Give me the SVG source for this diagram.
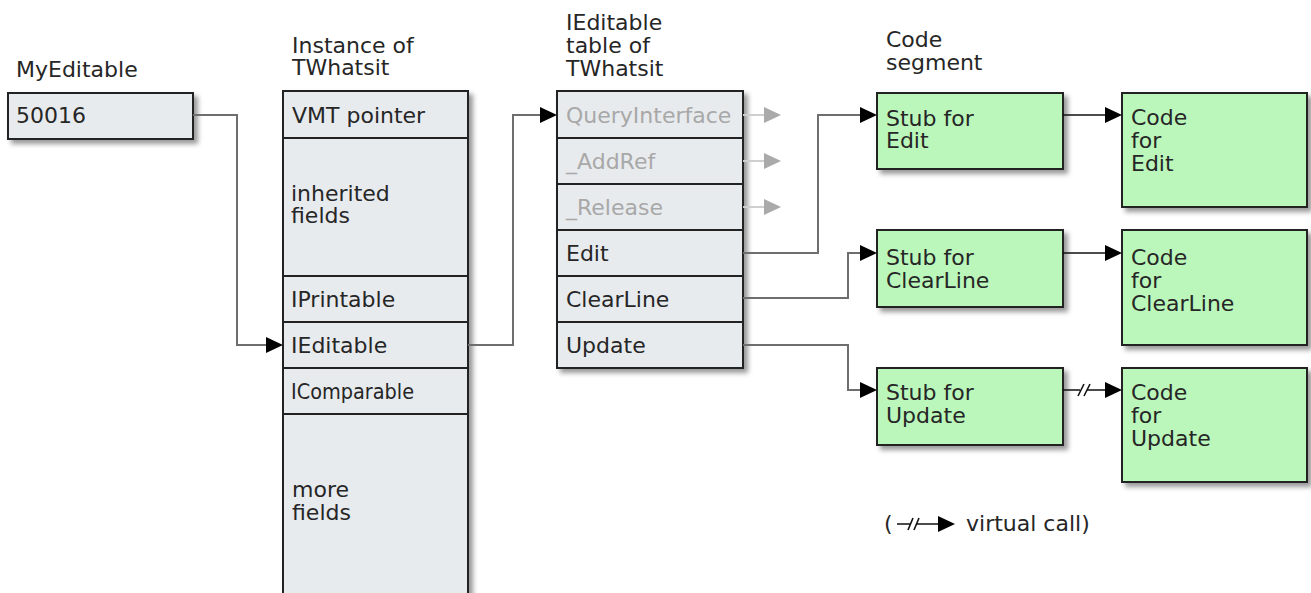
<svg xmlns="http://www.w3.org/2000/svg" width="1311" height="593" viewBox="0 0 1311 593">
<defs>
<style>
text{font-family:"DejaVu Sans","Verdana",sans-serif;font-size:22px;fill:#262626}
.dim{fill:#a8a8a8}
.box{fill:#e8ebee;stroke:#222;stroke-width:2}
.green{fill:#bbf7bb;stroke:#222;stroke-width:2}
.div{stroke:#222;stroke-width:2}
.conn{fill:none;stroke:#6e6e6e;stroke-width:2}
.call{fill:none;stroke:#111;stroke-width:1.6}
.ghost{fill:none;stroke:#cfcfcf;stroke-width:2}
</style>
<filter id="sh" x="-10%" y="-10%" width="130%" height="130%">
<feDropShadow dx="4" dy="4" stdDeviation="2.5" flood-color="#000" flood-opacity="0.4"/>
</filter>
<marker id="ah" markerUnits="userSpaceOnUse" markerWidth="18" markerHeight="17" refX="5" refY="8" orient="auto">
<path d="M0,0 L17,8 L0,16 z" fill="#000"/>
</marker>
<marker id="ahg" markerUnits="userSpaceOnUse" markerWidth="18" markerHeight="17" refX="5" refY="8" orient="auto">
<path d="M0,0 L17,8 L0,16 z" fill="#aaa"/>
</marker>
</defs>
<rect width="1311" height="593" fill="#fff"/>

<g id="labels">
<text x="16" y="77">MyEditable</text>
<text x="292" y="53">Instance of</text>
<text x="292" y="75">TWhatsit</text>
<text x="566" y="30">IEditable</text>
<text x="566" y="53">table of</text>
<text x="566" y="76">TWhatsit</text>
<text x="886" y="47">Code</text>
<text x="886" y="70">segment</text>
</g>

<g id="myeditable">
<rect class="box" x="8" y="93" width="185" height="46" filter="url(#sh)"/>
<text x="16" y="123">50016</text>
</g>

<g id="instance">
<rect class="box" x="283" y="91" width="185" height="520" filter="url(#sh)"/>
<line class="div" x1="283" y1="138" x2="468" y2="138"/>
<line class="div" x1="283" y1="276" x2="468" y2="276"/>
<line class="div" x1="283" y1="322" x2="468" y2="322"/>
<line class="div" x1="283" y1="368" x2="468" y2="368"/>
<line class="div" x1="283" y1="414" x2="468" y2="414"/>
<g id="inst-vmt"><text x="292" y="123">VMT pointer</text></g>
<g id="inst-inherited"><text x="291" y="201">inherited</text><text x="291" y="223">fields</text></g>
<g id="inst-iprintable"><text x="291" y="307">IPrintable</text></g>
<g id="inst-ieditable"><text x="291" y="353">IEditable</text></g>
<g id="inst-icomparable"><text x="291" y="399" textLength="123" lengthAdjust="spacingAndGlyphs">IComparable</text></g>
<g id="inst-more"><text x="292" y="497">more</text><text x="292" y="520">fields</text></g>
</g>

<g id="itable">
<rect class="box" x="557" y="91" width="186" height="277" filter="url(#sh)"/>
<line class="div" x1="557" y1="138" x2="743" y2="138"/>
<line class="div" x1="557" y1="184" x2="743" y2="184"/>
<line class="div" x1="557" y1="230" x2="743" y2="230"/>
<line class="div" x1="557" y1="276" x2="743" y2="276"/>
<line class="div" x1="557" y1="322" x2="743" y2="322"/>
<g id="t-query"><text class="dim" x="566" y="123">QueryInterface</text></g>
<g id="t-addref"><text class="dim" x="566" y="169">_AddRef</text></g>
<g id="t-release"><text class="dim" x="566" y="215">_Release</text></g>
<g id="t-edit"><text x="566" y="261">Edit</text></g>
<g id="t-clearline"><text x="566" y="307">ClearLine</text></g>
<g id="t-update"><text x="566" y="353">Update</text></g>
</g>

<g id="stub-edit">
<rect class="green" x="877" y="93" width="186" height="76" filter="url(#sh)"/>
<text x="886" y="126">Stub for</text><text x="886" y="148">Edit</text>
</g>
<g id="stub-clearline">
<rect class="green" x="877" y="230" width="186" height="77" filter="url(#sh)"/>
<text x="886" y="265">Stub for</text><text x="886" y="288">ClearLine</text>
</g>
<g id="stub-update">
<rect class="green" x="877" y="368" width="186" height="77" filter="url(#sh)"/>
<text x="886" y="400">Stub for</text><text x="886" y="423">Update</text>
</g>

<g id="code-edit">
<rect class="green" x="1122" y="93" width="185" height="114" filter="url(#sh)"/>
<text x="1131" y="125">Code</text><text x="1131" y="148">for</text><text x="1131" y="171">Edit</text>
</g>
<g id="code-clearline">
<rect class="green" x="1122" y="230" width="185" height="115" filter="url(#sh)"/>
<text x="1131" y="265">Code</text><text x="1131" y="288">for</text><text x="1131" y="311">ClearLine</text>
</g>
<g id="code-update">
<rect class="green" x="1122" y="368" width="185" height="114" filter="url(#sh)"/>
<text x="1131" y="400">Code</text><text x="1131" y="423">for</text><text x="1131" y="446">Update</text>
</g>

<g id="connectors">
<path class="conn" d="M193,115 H237 V345 H271" marker-end="url(#ah)"/>
<path class="conn" d="M468,345 H513 V115 H545" marker-end="url(#ah)"/>
<path class="ghost" d="M743,115 H769" marker-end="url(#ahg)"/>
<path class="ghost" d="M743,161 H769" marker-end="url(#ahg)"/>
<path class="ghost" d="M743,207 H769" marker-end="url(#ahg)"/>
<path class="conn" d="M743,253 H818 V115 H865" marker-end="url(#ah)"/>
<path class="conn" d="M743,298 H848 V253 H865" marker-end="url(#ah)"/>
<path class="conn" d="M743,345 H848 V390 H865" marker-end="url(#ah)"/>
<path class="call" d="M1063,115 H1110" marker-end="url(#ah)"/>
<path class="call" d="M1063,253 H1110" marker-end="url(#ah)"/>
<path class="call" d="M1063,390 H1080 M1087,390 H1110" marker-end="url(#ah)"/>
<path class="call" d="M1078,396 L1084,384 M1084,396 L1090,384"/>
</g>

<g id="legend">
<text x="884" y="531">(</text>
<path class="call" d="M897,524 H911 M917,524 H943" marker-end="url(#ah)"/>
<path class="call" d="M908,530 L913,518 M914,530 L919,518"/>
<text x="966" y="531">virtual call)</text>
</g>
</svg>
